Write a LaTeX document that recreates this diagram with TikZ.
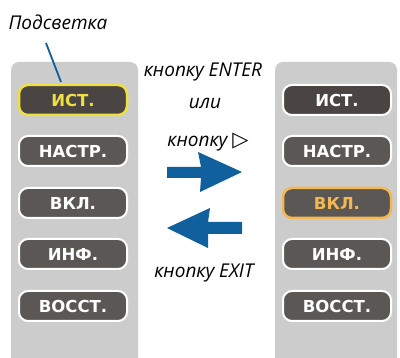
\documentclass[tikz,border=0pt]{standalone}
\usepackage{fontspec}
\setmainfont{Open Sans}
\newfontfamily\btnfont{DejaVu Sans}
\newfontfamily\symfont{DejaVu Sans}
\definecolor{panelgray}{HTML}{CCCCCC}
\definecolor{btnfill}{HTML}{5A5755}
\definecolor{btndark}{HTML}{4A4542}
\definecolor{hlyellow}{HTML}{EEE040}
\definecolor{hlorange}{HTML}{F5B850}
\definecolor{arrowblue}{HTML}{11609E}
\begin{document}
\begin{tikzpicture}[x=1pt,y=-1pt,
  panel/.style={fill=panelgray, rounded corners=8pt},
  btn/.style={draw=white, line width=2pt, fill=btnfill, rounded corners=9pt,
    minimum width=108pt, minimum height=30pt, inner sep=0pt,
    text=white, font=\btnfont\bfseries\fontsize{16.5}{16.5}\selectfont},
  btnsel/.style={btn, fill=btndark},
  lbl/.style={font=\itshape\fontsize{19}{19}\selectfont, text=black, inner sep=0pt},
  bluearrow/.style={fill=arrowblue, draw=none}]
\useasboundingbox (0,0) rectangle (400,358);
\fill[white] (0,0) rectangle (400,358);
% panels
\path[panel] (11,62) rectangle (138,366);
\path[panel] (275,62) rectangle (397,366);
% left buttons
\node[btnsel, draw=hlyellow, text=hlyellow, line width=2.5pt] (l1) at (73,100) {ИСТ.};
\node[btn] (l2) at (73,151) {НАСТР.};
\node[btn] (l3) at (73,203) {ВКЛ.};
\node[btn] (l4) at (73,254) {ИНФ.};
\node[btn] (l5) at (73,306) {ВОССТ.};
% right buttons
\node[btnsel] (r1) at (337,100) {ИСТ.};
\node[btn] (r2) at (337,151) {НАСТР.};
\node[btn, draw=hlorange, text=hlorange, line width=2.5pt] (r3) at (337,203) {ВКЛ.};
\node[btn] (r4) at (337,254) {ИНФ.};
\node[btn] (r5) at (337,306) {ВОССТ.};
% labels
\node[lbl] (hl) at (58,22) {Подсветка};
\coordinate (hlend) at (61,82);
\coordinate (hlstart) at (46,43);
\draw[arrowblue, line width=1.8pt] (hlstart) -- (hlend);
\node[lbl] (enter) at (203,72) {кнопку ENTER};
\node[lbl] (or) at (205,103) {или};
\node[lbl] (right) at (208,142) {кнопку {\symfont\fontsize{21}{21}\selectfont\upshape ▷}};
\node[lbl] (exit) at (204,273) {кнопку EXIT};
% arrows
\path[bluearrow] (167,167) -- (201,167) .. controls (200,160) .. (198,152) -- (242,172) -- (200,192) .. controls (201,185) .. (201,178) -- (167,178) -- cycle;
\path[bluearrow] (242,222) -- (208,222) .. controls (209,215) .. (210,208) -- (167,228) -- (208,248) .. controls (208,241) .. (208,234) -- (242,234) -- cycle;
\end{tikzpicture}
\end{document}
